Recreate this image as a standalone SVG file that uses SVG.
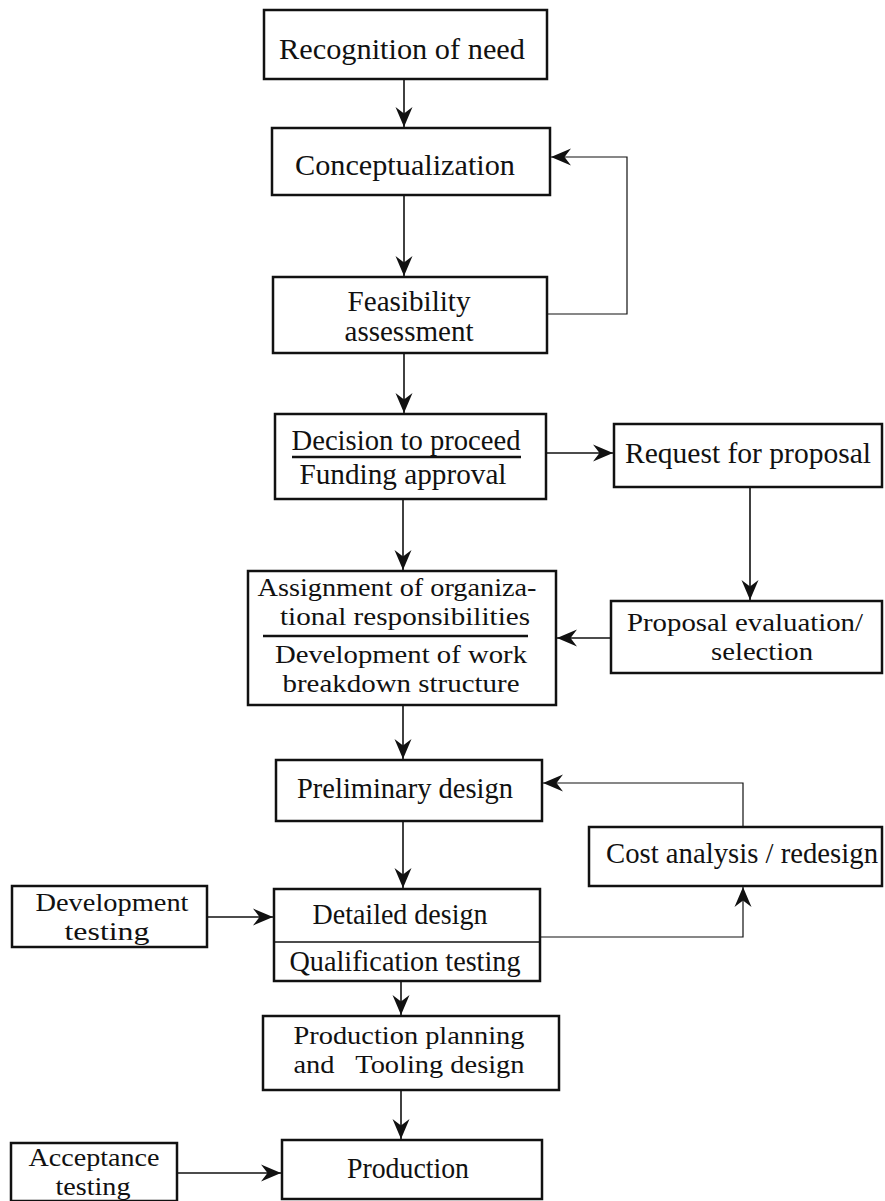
<svg xmlns="http://www.w3.org/2000/svg" width="885" height="1201" viewBox="0 0 885 1201">
<style>
.box{fill:#fff;stroke:#111;stroke-width:2.5}
.t{font-family:"Liberation Serif","Times New Roman",serif;font-size:29px;fill:#111;text-anchor:middle}
.m{font-size:26px}
.c{fill:none;stroke:#111;stroke-width:1.6}
.thin{fill:none;stroke:#111;stroke-width:1.2}
.rule{stroke:#111;stroke-width:2.4}
</style>
<defs>
<marker id="ah" markerUnits="userSpaceOnUse" markerWidth="24" markerHeight="20" viewBox="-22 -10 24 20" refX="0" refY="0" orient="auto">
<path d="M0,0 L-20,-8.5 L-13.5,0 L-20,8.5 Z" fill="#111"/>
</marker>
</defs>
<rect width="885" height="1201" fill="#fff"/>
<g id="connectors">
<path class="c" d="M404,79 V127" marker-end="url(#ah)"/>
<path class="c" d="M404,195 V276" marker-end="url(#ah)"/>
<path class="thin" d="M547,314 H627 V157 H551" marker-end="url(#ah)"/>
<path class="c" d="M404,353 V413" marker-end="url(#ah)"/>
<path class="c" d="M546,453 H613" marker-end="url(#ah)"/>
<path class="c" d="M403,499 V570" marker-end="url(#ah)"/>
<path class="c" d="M750,487 V600" marker-end="url(#ah)"/>
<path class="c" d="M611,638 H557" marker-end="url(#ah)"/>
<path class="c" d="M403,705 V759" marker-end="url(#ah)"/>
<path class="thin" d="M743,827 V783 H543" marker-end="url(#ah)"/>
<path class="c" d="M403,821 V888" marker-end="url(#ah)"/>
<path class="thin" d="M540,937 H743 V887" marker-end="url(#ah)"/>
<path class="c" d="M207,917 H273" marker-end="url(#ah)"/>
<path class="c" d="M401,981 V1015" marker-end="url(#ah)"/>
<path class="c" d="M401,1090 V1139" marker-end="url(#ah)"/>
<path class="c" d="M177,1173 H281" marker-end="url(#ah)"/>
</g>
<g id="recognition">
<rect class="box" x="264" y="10" width="283" height="69"/>
<text class="t" x="402" y="59" textLength="246" lengthAdjust="spacingAndGlyphs">Recognition of need</text>
</g>
<g id="conceptualization">
<rect class="box" x="272" y="128" width="278" height="67"/>
<text class="t" x="405" y="175" textLength="220" lengthAdjust="spacingAndGlyphs">Conceptualization</text>
</g>
<g id="feasibility">
<rect class="box" x="273" y="277" width="274" height="76"/>
<text class="t" x="409" y="311" textLength="123" lengthAdjust="spacingAndGlyphs">Feasibility</text>
<text class="t" x="409" y="341" textLength="129" lengthAdjust="spacingAndGlyphs">assessment</text>
</g>
<g id="decision">
<rect class="box" x="275" y="414" width="271" height="85"/>
<text class="t" x="406" y="450" textLength="229" lengthAdjust="spacingAndGlyphs">Decision to proceed</text>
<line class="rule" x1="292" y1="457" x2="521" y2="457"/>
<text class="t" x="403" y="484" textLength="207" lengthAdjust="spacingAndGlyphs">Funding approval</text>
</g>
<g id="request">
<rect class="box" x="614" y="424" width="268" height="63"/>
<text class="t" x="748" y="463" textLength="246" lengthAdjust="spacingAndGlyphs">Request for proposal</text>
</g>
<g id="proposal-evaluation">
<rect class="box" x="611" y="601" width="271" height="72"/>
<text class="t m" x="745" y="631" textLength="236" lengthAdjust="spacingAndGlyphs">Proposal evaluation/</text>
<text class="t m" x="762" y="660" textLength="102" lengthAdjust="spacingAndGlyphs">selection</text>
</g>
<g id="assignment">
<rect class="box" x="248" y="571" width="308" height="134"/>
<text class="t m" x="397" y="596" textLength="279" lengthAdjust="spacingAndGlyphs">Assignment of organiza-</text>
<text class="t m" x="405" y="625" textLength="250" lengthAdjust="spacingAndGlyphs">tional responsibilities</text>
<line class="rule" x1="263" y1="636" x2="528" y2="636"/>
<text class="t m" x="401" y="663" textLength="252" lengthAdjust="spacingAndGlyphs">Development of work</text>
<text class="t m" x="401" y="692" textLength="237" lengthAdjust="spacingAndGlyphs">breakdown structure</text>
</g>
<g id="preliminary">
<rect class="box" x="276" y="760" width="266" height="61"/>
<text class="t" x="405" y="798" textLength="216" lengthAdjust="spacingAndGlyphs">Preliminary design</text>
</g>
<g id="cost-analysis">
<rect class="box" x="589" y="827" width="293" height="59"/>
<text class="t" x="742" y="863" textLength="272" lengthAdjust="spacingAndGlyphs">Cost analysis / redesign</text>
</g>
<g id="detailed">
<rect class="box" x="274" y="889" width="266" height="92"/>
<line class="c" x1="274" y1="942" x2="540" y2="942"/>
<text class="t" x="400" y="924" textLength="175" lengthAdjust="spacingAndGlyphs">Detailed design</text>
<text class="t" x="405" y="971" textLength="231" lengthAdjust="spacingAndGlyphs">Qualification testing</text>
</g>
<g id="development-testing">
<rect class="box" x="12" y="886" width="195" height="61"/>
<text class="t m" x="112" y="911" textLength="153" lengthAdjust="spacingAndGlyphs">Development</text>
<text class="t m" x="107" y="940" textLength="85" lengthAdjust="spacingAndGlyphs">testing</text>
</g>
<g id="production-planning">
<rect class="box" x="263" y="1016" width="296" height="74"/>
<text class="t m" x="409" y="1044" textLength="231" lengthAdjust="spacingAndGlyphs">Production planning</text>
<text class="t m" x="409" y="1073" textLength="231" lengthAdjust="spacingAndGlyphs" xml:space="preserve">and   Tooling design</text>
</g>
<g id="acceptance-testing">
<rect class="box" x="11" y="1143" width="166" height="58"/>
<text class="t m" x="94" y="1166" textLength="131" lengthAdjust="spacingAndGlyphs">Acceptance</text>
<text class="t m" x="93" y="1195" textLength="75" lengthAdjust="spacingAndGlyphs">testing</text>
</g>
<g id="production">
<rect class="box" x="282" y="1140" width="260" height="59"/>
<text class="t" x="408" y="1178" textLength="122" lengthAdjust="spacingAndGlyphs">Production</text>
</g>
</svg>
